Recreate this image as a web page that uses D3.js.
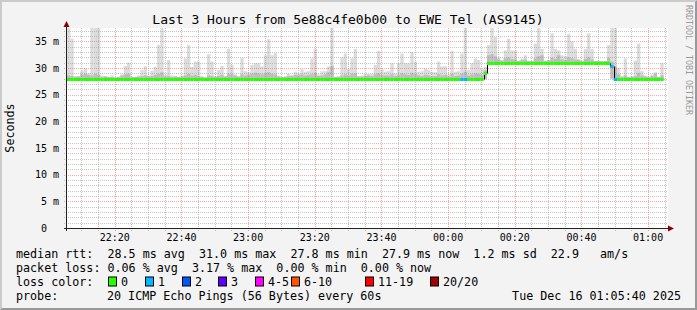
<!DOCTYPE html>
<html><head><meta charset="utf-8">
<script src="https://cdn.jsdelivr.net/npm/d3@7"></script>
<style>
html,body{margin:0;padding:0;background:#f3f3f3;}
svg{display:block;}
text{font-family:"DejaVu Sans Mono",monospace;white-space:pre;fill:#000;}
</style>
</head><body>
<svg id="chart" width="697" height="310"></svg>
<script>
// ---------- data ----------
const startTime = new Date(2025, 11, 15, 22, 5, 40);
const endTime   = new Date(2025, 11, 16, 1, 5, 40);
const stepMinutes = 1;
const titleText = "Last 3 Hours from 5e88c4fe0b00 to EWE Tel (AS9145)";
const yAxisLabel = "Seconds";
const watermark = "RRDTOOL / TOBI OETIKER";

// smoke: highest ping per step (ms)
const smokeMax = [
 38,35.5,28.5,28.5,29.5,30.0,29.0,38,38,38,
 28.6,28.5,28.4,28.6,28.3,28.4,28.8,30.4,31.0,28.4,
 28.4,28.6,29.6,30.3,28.6,29.5,30.2,34.3,38,28.7,
 31.5,28.6,28.5,28.4,28.6,31.8,34.3,30.2,31.2,31.2,
 28.5,28.3,32.6,31.2,28.5,29.6,30.4,28.5,33.6,30.6,
 28.8,28.5,31.9,29.4,29.2,30.6,30.9,30.9,30.3,32.4,
 35.4,32.4,32.8,28.6,28.4,28.5,28.9,28.7,29.3,29.0,
 29.8,29.3,29.4,31.8,33.6,28.8,29.4,29.4,30.3,38,
 28.4,28.5,32.0,32.7,29.8,31.8,33.6,28.5,28.6,28.9,
 28.9,28.9,30.6,33.2,29.8,29.3,29.4,30.9,29.0,30.9,
 32.7,30.9,30.9,33.0,31.2,29.3,29.4,29.9,29.6,29.3,
 29.2,31.2,30.3,30.3,28.8,33.2,29.3,29.4,32.7,38,
 29.6,30.9,31.8,31.5,29.8,30.2,34.3,37.5,35.8,32.0,
 31.4,33.3,35.5,33.3,33.3,31.4,31.8,32.4,31.4,31.3,
 34.6,37.5,33.6,31.4,31.5,36.5,33.6,33.3,32.4,32.2,
 36.4,35.0,33.6,31.4,31.3,33.6,36.5,33.6,31.3,31.4,
 31.3,31.3,34.3,37.5,37.5,30.0,28.5,31.8,28.4,28.5,
 31.4,34.6,29.4,28.6,28.4,28.8,29.2,28.4,30.9,null
];
// smoke: inner (denser) band top per step (ms)
const smokeMid = [
 28.6,28.5,28.3,28.4,28.8,28.9,28.7,28.6,28.9,28.7,
 28.3,28.4,28.3,28.3,28.2,28.3,28.6,28.8,28.9,28.3,
 28.3,28.4,28.5,28.6,28.4,28.5,28.7,28.9,29.2,28.4,
 28.5,28.3,28.4,28.3,28.4,28.6,28.9,28.6,28.7,28.5,
 28.3,28.2,28.6,28.5,28.3,28.5,28.7,28.4,28.9,28.8,
 28.6,28.4,28.8,28.6,28.7,28.9,29.1,29.0,28.8,29.0,
 29.2,28.9,28.8,28.4,28.3,28.3,28.5,28.5,28.7,28.6,
 28.8,28.6,28.7,28.8,29.1,28.5,28.6,28.8,29.2,30.4,
 28.3,28.3,28.6,28.8,28.6,28.9,29.0,28.4,28.4,28.5,
 28.6,28.5,28.8,29.0,28.7,28.6,28.6,28.8,28.5,28.7,
 29.0,28.8,28.7,29.1,28.8,28.6,28.5,28.7,28.6,28.5,
 28.5,28.8,28.6,28.7,28.4,28.9,28.5,28.6,28.9,29.3,
 28.6,28.8,29.0,28.9,28.7,29.6,32.4,32.6,32.2,31.6,
 31.4,31.8,32.0,31.7,31.6,31.3,31.5,31.6,31.3,31.3,
 31.8,32.2,32.4,31.3,31.4,31.9,31.7,32.4,31.6,31.5,
 32.0,31.8,31.6,31.6,31.3,31.7,32.0,31.6,31.3,31.3,
 31.3,31.3,31.9,31.2,30.2,28.8,28.3,28.6,28.3,28.3,
 28.5,29.1,28.6,28.4,28.3,28.5,28.9,28.3,28.6,null
];
// smoke: lowest ping per step (ms)
const smokeMin = [
 27.8,27.8,27.8,27.8,27.8,27.8,27.8,27.8,27.8,27.8,
 27.8,27.8,27.8,27.8,27.8,27.8,27.8,27.8,27.8,27.8,
 27.8,27.8,27.8,27.8,27.8,27.8,27.8,27.8,27.8,27.8,
 27.8,27.8,27.8,27.8,27.8,27.8,27.8,27.8,27.8,27.8,
 27.8,27.8,27.8,27.8,27.8,27.8,27.8,27.8,27.8,27.8,
 27.8,27.8,27.8,27.8,27.8,27.8,27.8,27.8,27.8,27.8,
 27.8,27.8,27.8,27.8,27.8,27.8,27.8,27.8,27.8,27.8,
 27.8,27.8,27.8,27.8,27.8,27.8,27.8,27.8,27.8,27.8,
 27.8,27.8,27.8,27.8,27.8,27.8,27.8,27.8,27.8,27.8,
 27.8,27.8,27.8,27.8,27.8,27.8,27.8,27.8,27.8,27.8,
 27.8,27.8,27.8,27.8,27.8,27.8,27.8,27.8,27.8,27.8,
 27.8,27.8,27.8,27.8,27.8,27.8,27.8,27.8,27.8,27.8,
 27.8,27.8,27.8,27.8,27.8,27.9,30.8,30.8,30.8,30.8,
 30.8,30.8,30.8,30.8,30.8,30.8,30.8,30.8,30.8,30.8,
 30.8,30.8,30.8,30.8,30.8,30.8,30.8,30.8,30.8,30.8,
 30.8,30.8,30.8,30.8,30.8,30.8,30.8,30.8,30.8,30.8,
 30.8,30.8,30.8,28.0,27.8,27.8,27.8,27.8,27.8,27.8,
 27.8,27.8,27.8,27.8,27.8,27.8,27.8,27.8,27.8,null
];
// median rtt per step (ms)
const median = [
 28.0,28.0,27.9,28.0,28.0,28.0,28.0,28.0,28.0,28.0,
 27.9,27.9,28.0,28.0,27.9,27.9,28.0,28.0,28.0,27.9,
 27.9,28.0,28.0,28.0,27.9,28.0,28.0,28.0,28.0,27.9,
 28.0,27.9,27.9,27.9,28.0,28.0,28.0,28.0,28.0,28.0,
 27.9,27.9,28.0,28.0,27.9,28.0,28.0,27.9,28.0,28.0,
 28.0,27.9,28.0,28.0,28.0,28.0,28.0,28.0,28.0,28.0,
 28.0,28.0,28.0,27.9,27.9,27.9,28.0,28.0,28.0,28.0,
 28.0,28.0,28.0,28.0,28.0,27.9,28.0,28.0,28.0,28.0,
 27.9,27.9,28.0,28.0,28.0,28.0,28.0,27.9,27.9,28.0,
 28.0,28.0,28.0,28.0,28.0,28.0,28.0,28.0,28.0,28.0,
 28.0,28.0,28.0,28.0,28.0,28.0,28.0,28.0,28.0,28.0,
 28.0,28.0,28.0,28.0,27.9,28.0,28.0,28.0,28.0,28.0,
 28.0,28.0,28.0,28.0,28.0,29.1,31.0,31.0,31.0,31.0,
 31.0,31.0,31.0,31.0,31.0,31.0,31.0,31.0,31.0,31.0,
 31.0,31.0,31.0,31.0,31.0,31.0,31.0,31.0,31.0,31.0,
 31.0,31.0,31.0,31.0,31.0,31.0,31.0,31.0,31.0,31.0,
 31.0,31.0,31.0,30.3,28.0,28.0,28.0,28.0,27.9,27.9,
 28.0,28.0,28.0,27.9,28.0,28.0,28.0,27.9,27.9,null
];
// lost pings (out of 20) per step
const loss = [
 0,0,0,0,0,0,0,0,0,0, 0,0,0,0,0,0,0,0,0,0,
 0,0,0,0,0,0,0,0,0,0, 0,0,0,0,0,0,0,0,0,0,
 0,0,0,0,0,0,0,0,0,0, 0,0,0,0,0,0,0,0,0,0,
 0,0,0,0,0,0,0,0,0,0, 0,0,0,0,0,0,0,0,0,0,
 0,0,0,0,0,0,0,0,0,0, 0,0,0,0,0,0,0,0,0,0,
 0,0,0,0,0,0,0,0,0,0, 0,0,0,0,0,0,0,0,1,1,
 0,0,0,0,0,0,0,0,0,0, 0,0,0,0,0,0,0,0,0,0,
 0,0,0,0,0,0,0,0,0,0, 0,0,0,0,0,0,0,0,0,0,
 0,0,0,1,1,0,0,0,0,0, 0,0,0,0,0,0,0,0,0,null
];
const yTickValues = [0, 5, 10, 15, 20, 25, 30, 35];
const lossLabels = ["0", "1", "2", "3", "4-5", "6-10", "11-19", "20/20"];
const lossMaxCount = [0, 1, 2, 3, 5, 10, 19, 20];
const lossColors = ["#26ff00", "#00b8ff", "#0059ff", "#5e00ff", "#ff00ff", "#ff5500", "#ff0000", "#a10000"];
const rttStats = ["28.5 ms avg", "31.0 ms max", "27.8 ms min", "27.9 ms now", "1.2 ms sd", "22.9", "am/s"];
const lossStats = ["0.06 % avg", "3.17 % max", "0.00 % min", "0.00 % now"];
const probeText = "20 ICMP Echo Pings (56 Bytes) every 60s";
const dateText = "Tue Dec 16 01:05:40 2025";

// ---------- drawing ----------
const svg = d3.select("#chart");
const W = 697, H = 310;
const plot = {left: 67, right: 667, top: 28, bottom: 228};

svg.append("rect").attr("width", W).attr("height", H).attr("fill", "#f3f3f3");
// 3D border
svg.append("path").attr("d", `M0,${H} L0,0 L${W},0 L${W-2},2 L2,2 L2,${H-2} Z`).attr("fill", "#cbcbcb");
svg.append("path").attr("d", `M${W},0 L${W},${H} L0,${H} L2,${H-2} L${W-2},${H-2} L${W-2},2 Z`).attr("fill", "#999999");

const x = d3.scaleTime().domain([startTime, endTime]).range([plot.left, plot.right]);
const y = d3.scaleLinear().domain([0, 37.5]).range([plot.bottom, plot.top]);
const ySnap = v => Math.round(y(v)) + 0.5;

svg.append("rect").attr("x", plot.left).attr("y", plot.top)
  .attr("width", plot.right - plot.left + 1).attr("height", plot.bottom - plot.top)
  .attr("fill", "#ffffff");

svg.append("clipPath").attr("id", "clip").append("rect")
  .attr("x", plot.left).attr("y", plot.top)
  .attr("width", plot.right - plot.left).attr("height", plot.bottom - plot.top);

const stepStart = i => d3.timeMinute.offset(startTime, i * stepMinutes);
const steps = d3.range(smokeMax.length).filter(i => smokeMax[i] != null);

const gData = svg.append("g").attr("clip-path", "url(#clip)");
// smoke outer
gData.selectAll("rect.smoke").data(steps).join("rect")
  .attr("x", i => x(stepStart(i)))
  .attr("width", i => x(stepStart(i + 1)) - x(stepStart(i)))
  .attr("y", i => y(smokeMax[i]))
  .attr("height", i => y(smokeMin[i]) - y(smokeMax[i]))
  .attr("fill", "#dcdcdc");
// smoke inner
gData.selectAll("rect.smokein").data(steps).join("rect")
  .attr("x", i => x(stepStart(i)))
  .attr("width", i => x(stepStart(i + 1)) - x(stepStart(i)))
  .attr("y", i => y(smokeMid[i]))
  .attr("height", i => y(smokeMin[i]) - y(smokeMid[i]))
  .attr("fill", "#bdbdbd");

// grid
const gGrid = svg.append("g");
const crisp = v => Math.round(v) + 0.5;
const hMinor = d3.range(1, 38).filter(v => v % 5 !== 0);
const hMajor = d3.range(5, 38, 5);
gGrid.selectAll("line.hmin").data(hMinor).join("line")
  .attr("x1", plot.left - 3).attr("x2", plot.right + 1)
  .attr("y1", v => crisp(y(v))).attr("y2", v => crisp(y(v)))
  .attr("stroke", "rgba(150,150,150,0.55)").attr("stroke-dasharray", "1,1");
const vAll = d3.timeMinute.every(5).range(startTime, endTime);
const vMinor = vAll.filter(d => d.getMinutes() % 20 !== 0);
const vMajor = vAll.filter(d => d.getMinutes() % 20 === 0);
gGrid.selectAll("line.vmin").data(vMinor).join("line")
  .attr("x1", d => crisp(x(d))).attr("x2", d => crisp(x(d)))
  .attr("y1", plot.top).attr("y2", plot.bottom + 3)
  .attr("stroke", "rgba(150,150,150,0.55)").attr("stroke-dasharray", "1,1");
gGrid.selectAll("line.hmaj").data(hMajor).join("line")
  .attr("x1", plot.left - 3).attr("x2", plot.right + 1)
  .attr("y1", v => crisp(y(v))).attr("y2", v => crisp(y(v)))
  .attr("stroke", "rgba(255,90,90,0.55)").attr("stroke-dasharray", "1,1");
gGrid.selectAll("line.vmaj").data(vMajor).join("line")
  .attr("x1", d => crisp(x(d))).attr("x2", d => crisp(x(d)))
  .attr("y1", plot.top).attr("y2", plot.bottom + 3)
  .attr("stroke", "rgba(255,90,90,0.55)").attr("stroke-dasharray", "1,1");

// median: black connectors + colored segments
const lossColor = n => lossColors[lossMaxCount.findIndex(m => n <= m)];
const gMed = svg.append("g").attr("clip-path", "url(#clip)");
const conn = steps.filter(i => i > 0 && median[i - 1] != null && ySnap(median[i]) !== ySnap(median[i - 1]));
gMed.selectAll("line.conn").data(conn).join("line")
  .attr("x1", i => crisp(x(stepStart(i)))).attr("x2", i => crisp(x(stepStart(i))))
  .attr("y1", i => ySnap(median[i - 1])).attr("y2", i => ySnap(median[i]))
  .attr("stroke", "#000").attr("stroke-width", 1);
gMed.selectAll("line.med").data(steps).join("line")
  .attr("x1", i => x(stepStart(i))).attr("x2", i => x(stepStart(i + 1)))
  .attr("y1", i => ySnap(median[i])).attr("y2", i => ySnap(median[i]))
  .attr("stroke", i => lossColor(loss[i])).attr("stroke-width", 3);

// axes
svg.append("line").attr("x1", plot.left - 3).attr("x2", plot.right + 2)
  .attr("y1", plot.bottom + 0.5).attr("y2", plot.bottom + 0.5).attr("stroke", "#222");
svg.append("line").attr("x1", plot.left - 0.5).attr("x2", plot.left - 0.5)
  .attr("y1", plot.bottom + 3).attr("y2", plot.top - 3).attr("stroke", "#222");
svg.append("path").attr("d", `M${plot.left - 0.5},${plot.top - 7} L${plot.left - 3.5},${plot.top - 1} L${plot.left + 2.5},${plot.top - 1} Z`).attr("fill", "#8b0000");
svg.append("path").attr("d", `M${plot.right + 7},${plot.bottom + 0.5} L${plot.right + 1},${plot.bottom - 2.5} L${plot.right + 1},${plot.bottom + 3.5} Z`).attr("fill", "#8b0000");

// x tick labels
const fmt = d3.timeFormat("%H:%M");
svg.selectAll("text.xt").data(vMajor).join("text")
  .attr("x", d => x(d)).attr("y", 241).attr("text-anchor", "middle")
  .attr("font-size", "10px").text(d => fmt(d));
// y tick labels
svg.selectAll("text.yt").data(yTickValues).join("text")
  .attr("x", 47).attr("y", v => y(v) + 3.5).attr("text-anchor", "end")
  .attr("font-size", "10px").text(v => String(v));
svg.selectAll("text.yu").data(yTickValues.filter(v => v > 0)).join("text")
  .attr("x", 53).attr("y", v => y(v) + 3.5)
  .attr("font-size", "10px").text("m");

// title
svg.append("text").attr("x", 348).attr("y", 24).attr("text-anchor", "middle")
  .attr("font-size", "13px").text(titleText);
// y label
svg.append("text").attr("transform", "translate(14,128) rotate(-90)")
  .attr("text-anchor", "middle").attr("font-size", "11.7px").text(yAxisLabel);
// watermark
svg.append("text").attr("transform", "translate(686,5) rotate(90)")
  .attr("font-size", "8.3px").style("fill", "#999999").text(watermark);

// legend
const lf = "11.7px";
const row = [257.5, 271.5, 285.5, 299.5];
svg.append("text").attr("x", 16).attr("y", row[0]).attr("font-size", lf)
  .text("median rtt:  " + rttStats.slice(0, 5).join("  ") + "  " + rttStats[5] + "   " + rttStats[6]);
svg.append("text").attr("x", 16).attr("y", row[1]).attr("font-size", lf)
  .text("packet loss: " + lossStats.join("  "));
svg.append("text").attr("x", 16).attr("y", row[2]).attr("font-size", lf).text("loss color:");
const boxX = [108.5, 145.5, 182.5, 218.5, 255.5, 291.5, 365.5, 430.5];
const lg = svg.selectAll("g.lg").data(lossLabels).join("g")
  .attr("transform", (d, i) => `translate(${boxX[i]},0)`);
lg.append("rect").attr("x", 0).attr("y", row[2] - 8.5).attr("width", 8).attr("height", 9)
  .attr("fill", (d, i) => lossColors[i]).attr("stroke", "#000").attr("stroke-width", 1);
lg.append("text").attr("x", 12.5).attr("y", row[2]).attr("font-size", lf).text(d => d);
svg.append("text").attr("x", 16).attr("y", row[3]).attr("font-size", lf).text("probe:");
svg.append("text").attr("x", 107).attr("y", row[3]).attr("font-size", lf).text(probeText);
svg.append("text").attr("x", 681).attr("y", row[3]).attr("text-anchor", "end").attr("font-size", lf).text(dateText);
</script>
</body></html>
